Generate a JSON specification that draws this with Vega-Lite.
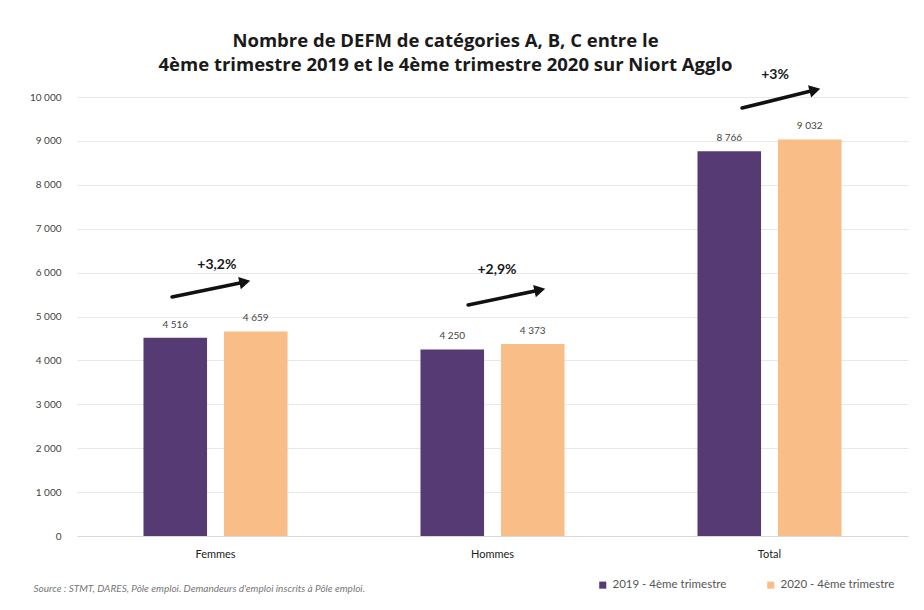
{
  "$schema": "https://vega.github.io/schema/vega-lite/v6.json",
  "autosize": {"type": "none"},
  "width": 831,
  "height": 439,
  "padding": {"left": 77, "top": 97, "right": 16, "bottom": 74},
  "background": "white",
  "config": {
    "font": "Lato",
    "view": {"stroke": null},
    "locale": {"number": {"decimal": ",", "thousands": " ", "grouping": [3], "currency": ["", " €"]}}
  },
  "title": {
    "text": ["Nombre de DEFM de catégories A, B, C entre le", "4ème trimestre 2019 et le 4ème trimestre 2020 sur Niort Agglo"],
    "font": "Open Sans",
    "fontSize": 18.5,
    "fontWeight": "bold",
    "color": "#1a1a1a",
    "anchor": "middle",
    "frame": "group",
    "dx": -47,
    "dy": 35,
    "offset": 29,
    "lineHeight": 24
  },
  "datasets": {
    "bars": [
      {"cat": "Femmes", "period": "2019 - 4ème trimestre", "v": 4516},
      {"cat": "Femmes", "period": "2020 - 4ème trimestre", "v": 4659},
      {"cat": "Hommes", "period": "2019 - 4ème trimestre", "v": 4250},
      {"cat": "Hommes", "period": "2020 - 4ème trimestre", "v": 4373},
      {"cat": "Total", "period": "2019 - 4ème trimestre", "v": 8766},
      {"cat": "Total", "period": "2020 - 4ème trimestre", "v": 9032}
    ],
    "arrows": [
      {"x1": 0.343, "y1": 5444, "x2": 0.606, "y2": 5786, "ang": 348},
      {"x1": 1.412, "y1": 5262, "x2": 1.671, "y2": 5604, "ang": 348},
      {"x1": 2.401, "y1": 9749, "x2": 2.664, "y2": 10159, "ang": 346}
    ],
    "pcts": [
      {"x": 0.505, "y": 6173, "label": "+3,2%"},
      {"x": 1.516, "y": 6059, "label": "+2,9%"},
      {"x": 2.52, "y": 10501, "label": "+3%"}
    ]
  },
  "layer": [
    {
      "data": {"name": "bars"},
      "mark": {"type": "bar"},
      "encoding": {
        "x": {
          "field": "cat", "type": "nominal", "sort": ["Femmes", "Hommes", "Total"],
          "scale": {"paddingInner": 0.48, "paddingOuter": 0.24},
          "axis": {
            "title": "Source : STMT, DARES, Pôle emploi. Demandeurs d'emploi inscrits à Pôle emploi.",
            "titleFont": "Lato", "titleFontSize": 10, "titleFontStyle": "italic", "titleFontWeight": "normal",
            "titleColor": "#777777", "titleAnchor": "start", "titleAlign": "left", "titleBaseline": "middle",
            "titleX": -44, "titleY": 52,
            "labelAngle": 0, "labelFontSize": 11, "labelColor": "#222222", "labelPadding": 12,
            "ticks": false, "domainColor": "#d9d9d9", "domainWidth": 1
          }
        },
        "xOffset": {"field": "period", "type": "nominal", "scale": {"paddingInner": 0.21}},
        "y": {
          "field": "v", "type": "quantitative",
          "scale": {"domain": [0, 10000], "nice": false},
          "axis": {
            "title": null, "values": [0, 1000, 2000, 3000, 4000, 5000, 6000, 7000, 8000, 9000, 10000],
            "format": ",d", "labelFontSize": 10, "labelColor": "#444444", "labelPadding": 16,
            "ticks": false, "domain": false, "gridColor": "#e8e8e8", "gridWidth": 1
          }
        },
        "color": {
          "field": "period", "type": "nominal",
          "scale": {"range": ["#553a74", "#f9bd88"]},
          "legend": {
            "title": null, "orient": "none", "direction": "horizontal",
            "legendX": 520, "legendY": 482,
            "symbolType": "square", "symbolSize": 50, "symbolStrokeWidth": 0,
            "labelFontSize": 11.5, "labelColor": "#555555", "columnPadding": 38
          }
        }
      }
    },
    {
      "data": {"name": "bars"},
      "mark": {"type": "text", "dy": -13, "fontSize": 10, "color": "#444444"},
      "encoding": {
        "x": {"field": "cat", "type": "nominal", "sort": ["Femmes", "Hommes", "Total"], "scale": {"paddingInner": 0.48, "paddingOuter": 0.24}, "axis": null},
        "xOffset": {"field": "period", "type": "nominal", "scale": {"paddingInner": 0.21}},
        "y": {"field": "v", "type": "quantitative"},
        "text": {"field": "v", "type": "quantitative", "format": ",d"}
      }
    },
    {
      "data": {"name": "arrows"},
      "mark": {"type": "rule", "strokeWidth": 3.5, "color": "#111111", "strokeCap": "round"},
      "encoding": {
        "x": {"field": "x1", "type": "quantitative", "scale": {"domain": [0, 3], "nice": false}, "axis": null},
        "x2": {"field": "x2"},
        "y": {"field": "y1", "type": "quantitative"},
        "y2": {"field": "y2"}
      }
    },
    {
      "data": {"name": "arrows"},
      "mark": {"type": "point", "shape": "triangle-right", "filled": true, "size": 160, "color": "#111111", "opacity": 1},
      "encoding": {
        "x": {"field": "x2", "type": "quantitative", "scale": {"domain": [0, 3], "nice": false}, "axis": null},
        "y": {"field": "y2", "type": "quantitative"},
        "angle": {"field": "ang", "type": "quantitative", "scale": null}
      }
    },
    {
      "data": {"name": "pcts"},
      "mark": {"type": "text", "fontSize": 14, "fontWeight": "bold", "color": "#1a1a1a"},
      "encoding": {
        "x": {"field": "x", "type": "quantitative", "scale": {"domain": [0, 3], "nice": false}, "axis": null},
        "y": {"field": "y", "type": "quantitative"},
        "text": {"field": "label", "type": "nominal"}
      }
    }
  ],
  "resolve": {"scale": {"x": "independent"}}
}
